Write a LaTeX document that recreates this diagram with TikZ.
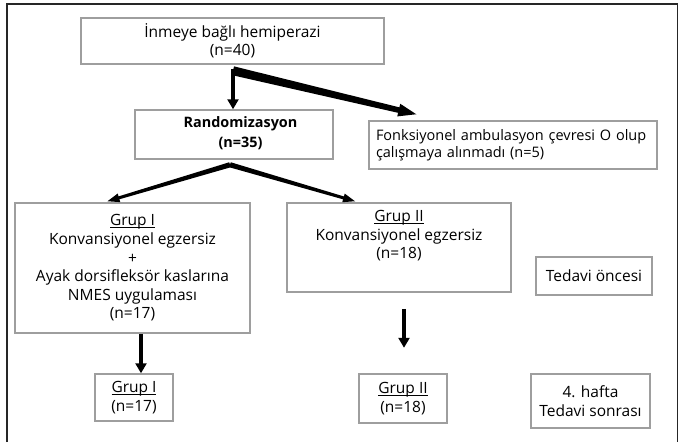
\documentclass[tikz,border=0pt]{standalone}
\usepackage{fontspec}
\setmainfont{Open Sans}
\usetikzlibrary{arrows.meta,calc}
\newcommand\myul[1]{\setbox0\hbox{#1}\rlap{\rule[-2.2pt]{\wd0}{0.8pt}}\box0}
% tapered arrow: #1 start, #2 tip, #3 half width at start, #4 half width at head base,
% #5 head length, #6 head half width
\newcommand\taperarrow[6]{%
  \coordinate (tabase) at ($(#2)!#5!(#1)$);
  \fill[black] ($(#1)!#3!90:(#2)$) -- ($(tabase)!#4!-90:(#1)$) -- ($(tabase)!#6!-90:(#1)$)
    -- (#2) -- ($(tabase)!#6!90:(#1)$) -- ($(tabase)!#4!90:(#1)$) -- ($(#1)!#3!-90:(#2)$) -- cycle;}
\begin{document}
\begin{tikzpicture}[x=1pt,y=-1pt,
  box/.style={draw=black!38, line width=1.5pt, fill=white, inner sep=0pt},
  lbl/.style={font=\fontsize{15.5}{18.6}\selectfont, align=center, inner sep=0pt},
  arrw/.style={draw=black, line width=#1, -{Triangle[length=10pt,width=11pt]}},
  frameline/.style={draw=black!85, line width=1.4pt}]
\useasboundingbox (0,0) rectangle (679,442);
\draw[frameline] (7,442) -- (7,4) -- (677.5,4) -- (677.5,442);

% boxes
\node[box, lbl, font=\fontsize{15.5}{18}\selectfont, minimum width=303, minimum height=46] (top) at (232.5,41)
  {İnmeye bağlı hemiperazi\\(n=40)};
\node[box, minimum width=198, minimum height=49] (rand) at (234,134.5) {};
\node[lbl, font=\fontsize{14.4}{20}\selectfont\bfseries] (randt) at (240.5,133)
  {Randomizasyon\\(n=35)};
\node[box, minimum width=288, minimum height=48, text width=274, inner xsep=7pt,
  align=left, font=\fontsize{14.5}{16.7}\selectfont] (fonk) at (513,145)
  {Fonksiyonel ambulasyon çevresi O olup\\çalışmaya alınmadı (n=5)};
\node[box, lbl, minimum width=235, minimum height=130] (g1) at (132.5,268)
  {\myul{Grup I}\\Konvansiyonel egzersiz\\+\\Ayak dorsifleksör kaslarına\\NMES uygulaması\\(n=17)};
\node[box, minimum width=224, minimum height=89] (g2) at (399,247.5) {};
\node[lbl] (g2t) at (399,236)
  {\myul{Grup II}\\Konvansiyonel egzersiz\\(n=18)};
\node[box, lbl, minimum width=116, minimum height=38] (ted1) at (594,276)
  {Tedavi öncesi};
\node[box, lbl, minimum width=78, minimum height=47] (g1s) at (134,397.5)
  {\myul{Grup I}\\(n=17)};
\node[box, lbl, minimum width=88, minimum height=49] (g2s) at (403,398.5)
  {\myul{Grup II}\\(n=18)};
\node[box, lbl, minimum width=119, minimum height=54] (ted2) at (590.5,401)
  {4. hafta\\Tedavi sonrası};

% connector points
\coordinate (j1) at ([xshift=0.5pt,yshift=-6pt]top.south);
\coordinate (j2) at ([xshift=-4pt,yshift=-5pt]rand.south);
\coordinate (fonkin) at ([xshift=48pt,yshift=6pt]fonk.north west);
\coordinate (g1in) at ([xshift=-25pt,yshift=1pt]g1.north);
\coordinate (g2in) at ([xshift=-44pt,yshift=1pt]g2.north);
\coordinate (g2a) at ([xshift=5pt,yshift=-16pt]g2.south);
\coordinate (g2b) at ([xshift=5pt,yshift=-55pt]g2.south);

% arrows
\draw[arrw=4.5pt] ([yshift=2pt]j1) -- (j1 |- rand.north);
\taperarrow{j1}{fonkin}{4.5pt}{2.8pt}{18pt}{6.5pt}
\taperarrow{j2}{g1in}{2.6pt}{1.5pt}{12pt}{4.5pt}
\taperarrow{j2}{g2in}{2.6pt}{1.5pt}{12pt}{4.5pt}
\draw[arrw=4pt] ([xshift=8.5pt]g1.south) -- ([xshift=7pt]g1s.north);
\draw[arrw=4pt] (g2a) -- (g2b);
\end{tikzpicture}
\end{document}
